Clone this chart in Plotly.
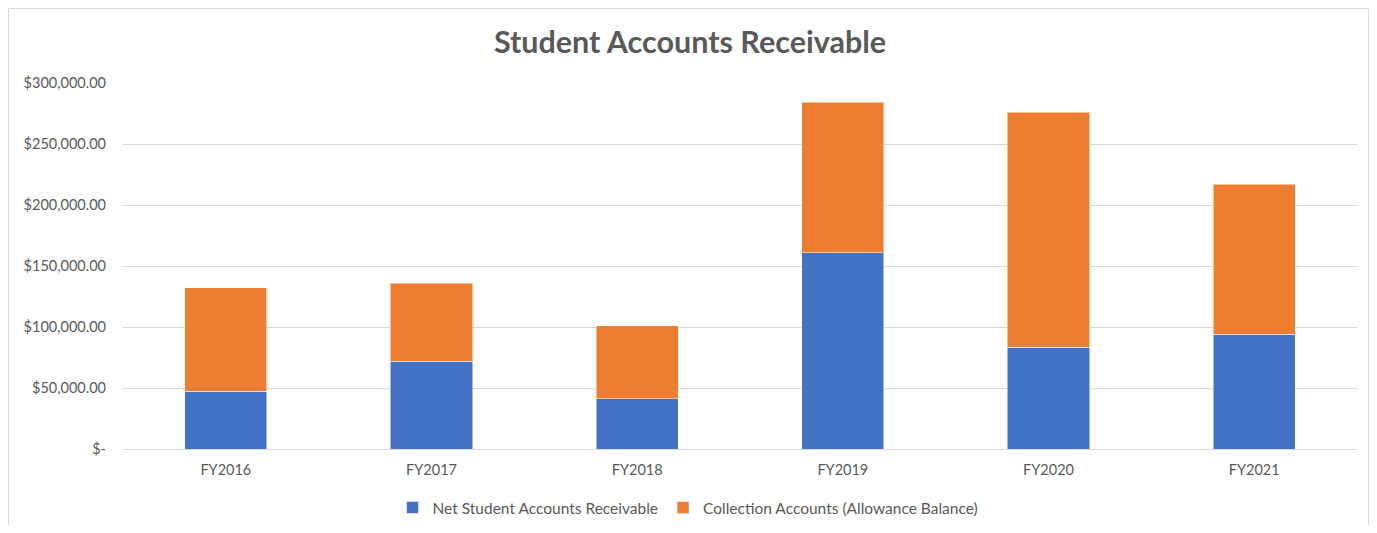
import plotly.graph_objects as go

categories = ["FY2016", "FY2017", "FY2018", "FY2019", "FY2020", "FY2021"]
net_receivable = [47200, 72100, 41200, 160900, 83600, 93900]
collection_accounts = [84800, 63600, 59800, 123500, 192300, 123300]
tick_values = [0, 50000, 100000, 150000, 200000, 250000, 300000]
tick_labels = ["$-", "$50,000.00", "$100,000.00", "$150,000.00", "$200,000.00", "$250,000.00", "$300,000.00"]

OFF = 8  # page body margin (each side)
W, H = 1377 - 2 * OFF, 533 - 2 * OFF
# plot area in page pixels: x 123..1357, y 83..449
ml = 123 - OFF
mr = W - (1357 - OFF)
mt = 83 - OFF
mb = H - (449 - OFF)
pw = W - ml - mr
ph = H - mt - mb

font_family = "Lato, 'Open Sans', sans-serif"
gray = "#595959"

fig = go.Figure()
fig.add_trace(go.Bar(
    x=categories, y=net_receivable, name="Net Student Accounts Receivable",
    marker=dict(color="#4472C4", line=dict(color="rgba(255,255,255,0.5)", width=1)),
))
fig.add_trace(go.Bar(
    x=categories, y=collection_accounts, name="Collection Accounts (Allowance Balance)",
    marker=dict(color="#ED7D31", line=dict(color="rgba(255,255,255,0.5)", width=1)),
))

fig.update_layout(
    barmode="stack",
    bargap=0.6,
    width=W, height=H,
    margin=dict(l=ml, r=mr, t=mt, b=mb, autoexpand=False),
    paper_bgcolor="white",
    plot_bgcolor="white",
    font=dict(family=font_family, color=gray, size=14),
    title=dict(text="<b>Student Accounts Receivable</b>", x=(690 - OFF) / W, xanchor="center",
               y=1 - (42 - OFF) / H, yanchor="middle",
               font=dict(size=30.5, color=gray, family=font_family)),
    legend=dict(orientation="h", xref="container", yref="container",
                x=(688 - OFF) / W, xanchor="center",
                y=1 - (508 - OFF) / H, yanchor="middle",
                font=dict(size=15.5, color=gray), traceorder="normal",
                itemwidth=30),
    xaxis=dict(showgrid=False, showline=False, ticks="", ticklabelstandoff=10,
               automargin=False, tickfont=dict(size=14.5, color=gray)),
    yaxis=dict(range=[0, 300000], tickvals=tick_values, ticktext=tick_labels,
               showgrid=True, gridcolor="#D9D9D9", gridwidth=1, zeroline=True,
               zerolinecolor="#D9D9D9", zerolinewidth=1, automargin=False,
               ticks="", ticklabelstandoff=16, tickfont=dict(size=14.5, color=gray)),
    shapes=[dict(type="rect", xref="paper", yref="paper",
                 x0=(0.5 - ml) / pw, x1=(W - 0.5 - ml) / pw,
                 y0=(ph - (H + 20 - mt)) / ph, y1=(ph - (0.5 - mt)) / ph,
                 line=dict(color="#D9D9D9", width=1), layer="below")],
)

fig.write_html("out.html")
